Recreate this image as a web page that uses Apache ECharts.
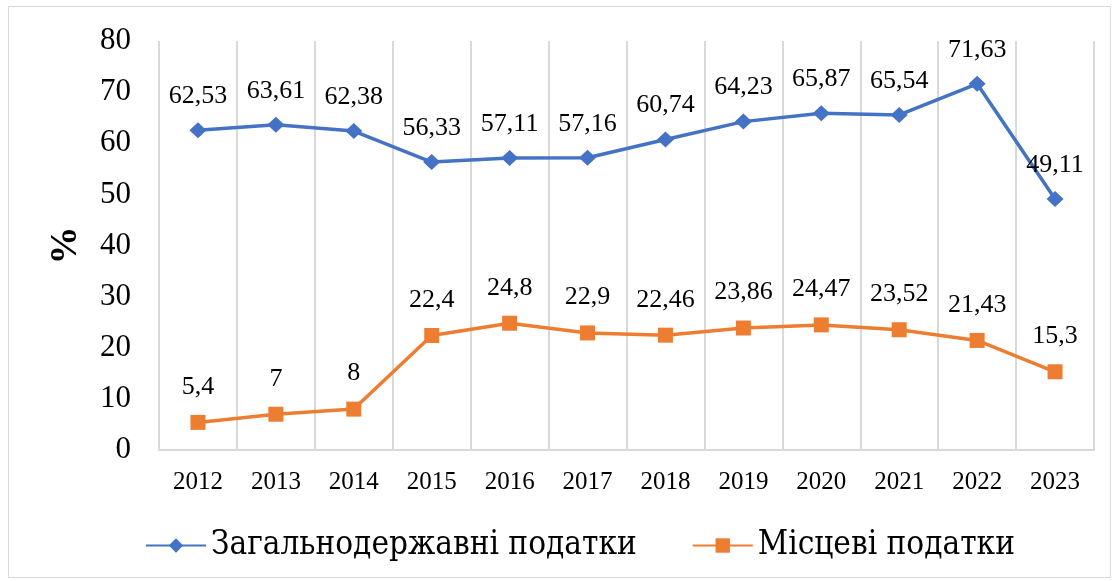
<!DOCTYPE html>
<html>
<head>
<meta charset="utf-8">
<script src="https://cdn.jsdelivr.net/npm/echarts@6/dist/echarts.min.js"></script>
<style>
  html, body { margin: 0; padding: 0; background: #fff; }
  #chart { width: 1118px; height: 581px; }
</style>
</head>
<body>
<div id="chart"></div>
<script>
const years = ['2012', '2013', '2014', '2015', '2016', '2017', '2018', '2019', '2020', '2021', '2022', '2023']
const nationalTaxes = [62.53, 63.61, 62.38, 56.33, 57.11, 57.16, 60.74, 64.23, 65.87, 65.54, 71.63, 49.11]
const localTaxes = [5.4, 7, 8, 22.4, 24.8, 22.9, 22.46, 23.86, 24.47, 23.52, 21.43, 15.3]
const seriesNames = ['Загальнодержавні податки', 'Місцеві податки']

const serif = 'Liberation Serif'
const fmt = p => String(p.value).replace('.', ',')

const chart = echarts.init(document.getElementById('chart'))
const option = {
  animation: false,
  backgroundColor: '#fff',
  graphic: [{
    type: 'rect',
    shape: { x: 8.5, y: 6.5, width: 1102, height: 571 },
    style: { fill: 'none', stroke: '#d9d9d9', lineWidth: 1 },
    silent: true
  }],
  grid: { left: 159, right: 24, top: 41, bottom: 131 },
  legend: {
    bottom: 14,
    left: 140,
    itemGap: 55,
    itemWidth: 60,
    itemHeight: 18,
    textStyle: { fontFamily: '"DejaVu Serif Condensed", "DejaVu Serif", serif', fontSize: 33, color: '#000' },
    data: seriesNames
  },
  xAxis: {
    type: 'category',
    data: years,
    boundaryGap: true,
    axisLine: { lineStyle: { color: '#d9d9d9', width: 2 } },
    axisTick: { show: false },
    splitLine: { show: true, interval: 0, lineStyle: { color: '#d9d9d9', width: 2 } },
    axisLabel: { fontFamily: serif, fontSize: 25, color: '#000', margin: 20, interval: 0 }
  },
  yAxis: {
    type: 'value',
    min: 0,
    max: 80,
    interval: 10,
    name: '%',
    nameLocation: 'middle',
    nameGap: 74,
    nameRotate: 90,
    nameTextStyle: { fontFamily: serif, fontSize: 38, fontWeight: 'bold', color: '#000' },
    axisLine: { show: false },
    axisTick: { show: false },
    splitLine: { show: false },
    axisLabel: { fontFamily: serif, fontSize: 31, color: '#000', margin: 28 }
  },
  series: [
    {
      name: seriesNames[0],
      type: 'line',
      data: nationalTaxes,
      symbol: 'diamond',
      symbolSize: [17, 16],
      itemStyle: { color: '#4472C4' },
      lineStyle: { color: '#4472C4', width: 3.5 },
      label: { show: true, position: 'top', distance: 13, formatter: fmt, fontFamily: serif, fontSize: 26, color: '#000' }
    },
    {
      name: seriesNames[1],
      type: 'line',
      data: localTaxes,
      symbol: 'rect',
      symbolSize: 15,
      itemStyle: { color: '#ED7D31' },
      lineStyle: { color: '#ED7D31', width: 3.5 },
      label: { show: true, position: 'top', distance: 15, formatter: fmt, fontFamily: serif, fontSize: 26, color: '#000' }
    }
  ]
}
chart.setOption(option)
</script>
</body>
</html>
